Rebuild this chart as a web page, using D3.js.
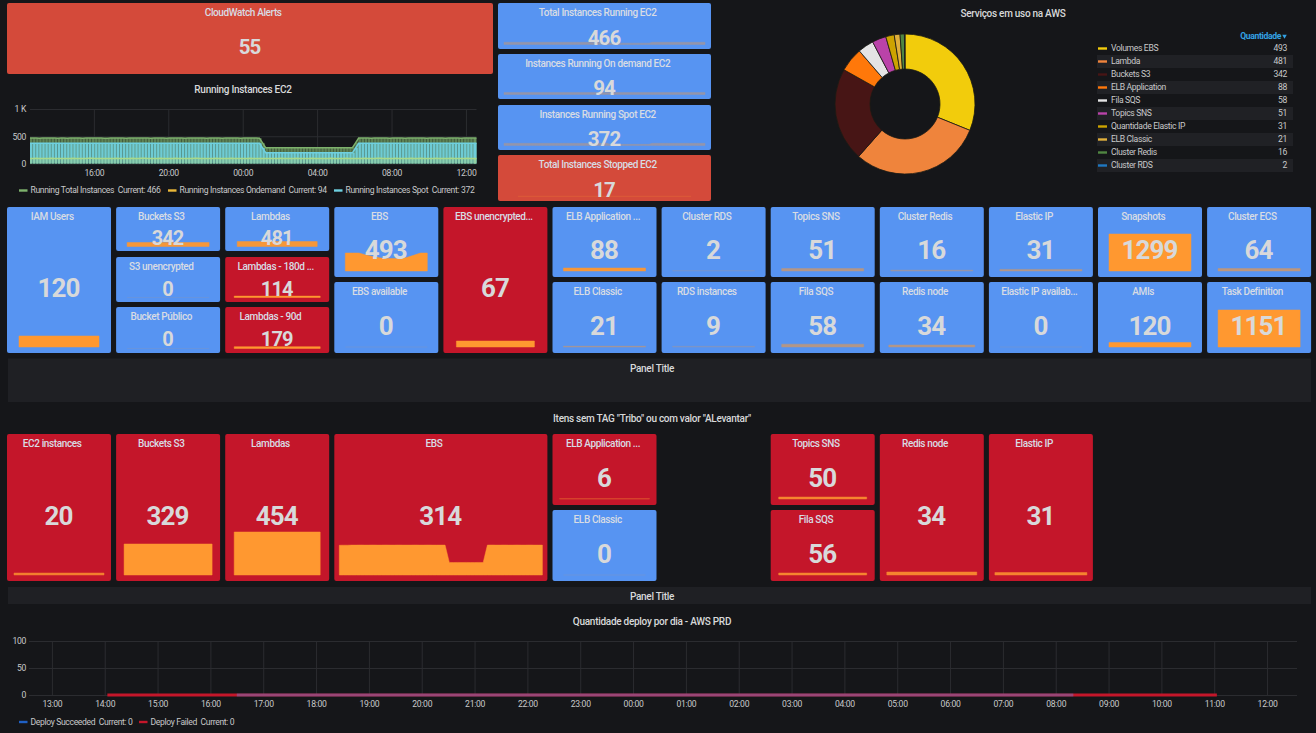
<!DOCTYPE html>
<html>
<head>
<meta charset="utf-8">
<script src="https://cdn.jsdelivr.net/npm/d3@7"></script>
<style>
  body { margin: 0; background: #151619; overflow: hidden; }
  svg { display: block; font-family: Roboto, sans-serif; }
  text { white-space: pre; }
  .panel-title { fill: #d8d9da; font-size: 10px; font-weight: 500; text-anchor: middle; dominant-baseline: middle; letter-spacing: -0.28px; }
  .tile-title { fill: #d8dce4; font-size: 10px; font-weight: 500; text-anchor: middle; dominant-baseline: middle; letter-spacing: -0.38px; }
  .tile-value { fill: #d8d9da; font-weight: 700; text-anchor: middle; dominant-baseline: middle; letter-spacing: -0.9px; }
  .legend { fill: #c8c9ca; font-size: 8.6px; dominant-baseline: middle; letter-spacing: -0.35px; }
  .axis text { fill: #c8c9ca; font-size: 8.6px; font-family: Roboto, sans-serif; letter-spacing: -0.3px; }
  .axis line { stroke: #2b2c30; }
  .axis path { display: none; }
</style>
</head>
<body>
<div class="chart"></div>
<script>
'use strict';

// Top row tiles
const topTitles = ['CloudWatch Alerts', 'Total Instances Running EC2', 'Instances Running On demand EC2', 'Instances Running Spot EC2', 'Total Instances Stopped EC2'];
const topValues = [55, 466, 94, 372, 17];

// Running instances graph, one sample every 10 minutes
const runningTotal = [
  466,467,466,465,466,466,467,468,466,465,
  466,466,465,466,467,466,466,465,466,467,
  468,467,466,466,465,464,466,466,467,466,
  466,465,466,467,466,466,468,467,466,465,
  466,466,467,466,465,466,466,467,466,466,
  465,466,466,467,468,466,466,465,466,466,
  467,466,465,466,466,467,466,466,465,466,
  466,467,466,466,465,378,
  291,290,289,290,290,291,290,289,290,290,
  291,290,290,289,290,291,290,290,289,290,
  290,291,290,289,290,290,291,290,290,378,
  466,466,467,466,465,466,468,467,466,466,
  465,466,467,466,466,465,466,467,466,466,
  468,466,465,466,466,467,466,466,465,466,
  467,466,466,465,466,467,466,466,466
];
const runningOndemand = [
  94,94,95,94,94,94,94,95,94,94,
  94,94,94,94,95,94,94,94,94,95,
  95,94,94,94,94,93,94,94,95,94,
  94,94,94,95,94,94,95,95,94,94,
  94,94,95,94,94,94,94,95,94,94,
  94,94,94,95,95,94,94,94,94,94,
  95,94,94,94,94,95,94,94,94,94,
  94,95,94,94,94,94,
  94,94,93,94,94,95,94,93,94,94,
  95,94,94,93,94,95,94,94,93,94,
  94,95,94,93,94,94,95,94,94,94,
  94,94,95,94,94,94,95,95,94,94,
  94,94,95,94,94,94,94,95,94,94,
  95,94,94,94,94,95,94,94,94,94,
  95,94,94,94,94,95,94,94,94
];
const runningSpot = [
  372,373,371,371,372,372,373,373,372,371,
  372,372,371,372,372,372,372,371,372,372,
  373,373,372,372,371,371,372,372,372,372,
  372,371,372,372,372,372,373,372,372,371,
  372,372,372,372,371,372,372,372,372,372,
  371,372,372,372,373,372,372,371,372,372,
  372,372,371,372,372,372,372,372,371,372,
  372,372,372,372,371,284,
  197,196,196,196,196,196,196,196,196,196,
  196,196,196,196,196,196,196,196,196,196,
  196,196,196,196,196,196,196,196,196,284,
  372,372,372,372,371,372,373,372,372,372,
  371,372,372,372,372,371,372,372,372,372,
  373,372,371,372,372,372,372,372,371,372,
  372,372,372,371,372,372,372,372,372
];
const runningLegend = ['Running Total Instances  Current: 466', 'Running Instances Ondemand  Current: 94', 'Running Instances Spot  Current: 372'];
const runningYTicks = [0, 500, 1000];

// Services pie
const pieLabels = ['Volumes EBS', 'Lambda', 'Buckets S3', 'ELB Application', 'Fila SQS', 'Topics SNS', 'Quantidade Elastic IP', 'ELB Classic', 'Cluster Redis', 'Cluster RDS'];
const pieValues = [493, 481, 342, 88, 58, 51, 31, 21, 16, 2];
const pieColours = ['#f2cc0c', '#ef843c', '#471515', '#ff780a', '#e4e4e4', '#ba43a9', '#cca300', '#e0b03c', '#508642', '#1f78c1'];

// Services tiles
const serviceTitles = [
  'IAM Users', 'Buckets S3', 'S3 unencrypted', 'Bucket Público', 'Lambdas', 'Lambdas - 180d ...', 'Lambdas - 90d',
  'EBS', 'EBS available', 'EBS unencrypted...', 'ELB Application ...', 'ELB Classic', 'Cluster RDS', 'RDS instances',
  'Topics SNS', 'Fila SQS', 'Cluster Redis', 'Redis node', 'Elastic IP', 'Elastic IP availab...', 'Snapshots', 'AMIs',
  'Cluster ECS', 'Task Definition'
];
const serviceValues = [120, 342, 0, 0, 481, 114, 179, 493, 0, 67, 88, 21, 2, 9, 51, 58, 16, 34, 31, 0, 1299, 120, 64, 1151];
const serviceSeries = [
  [120, 120], [342, 342], [0, 0], [0, 0], [481, 481], [114, 114], [179, 179],
  [493, 493, 493, 440, 395, 360, 345, 345, 345, 370, 430, 493, 493], [0, 0], [67, 67], [88, 88], [21, 21], [2, 2], [9, 9],
  [51, 51], [58, 58], [16, 16], [34, 34], [31, 31], [0, 0], [1299, 1299], [120, 120], [64, 64], [1151, 1151]
];

// Items without tag tiles
const untaggedTitles = ['EC2 instances', 'Buckets S3', 'Lambdas', 'EBS', 'ELB Application ...', 'ELB Classic', 'Topics SNS', 'Fila SQS', 'Redis node', 'Elastic IP'];
const untaggedValues = [20, 329, 454, 314, 6, 0, 50, 56, 34, 31];
const untaggedSeries = [
  [20, 20], [329, 329], [454, 454],
  [
    312, 313, 313, 314, 314, 315, 314, 314, 315, 314, 314, 315, 314,
    314, 315, 314, 314, 314, 315, 314, 314, 315, 314, 314, 314, 314,
    132, 131, 132, 131, 132, 131, 131, 132, 131,
    314, 315, 314, 314, 315, 314, 314, 315, 314, 314, 315, 314, 314, 314
  ],
  [6, 6], [0, 0], [50, 50], [56, 56], [34, 34], [31, 31]
];

// Deploy graph
const deployTimes = ['14:03', '15:03', '16:03', '16:30', '17:03', '18:03', '19:03', '20:03', '21:03', '22:03', '23:03', '00:03', '01:03', '02:03', '03:03', '04:03', '05:03', '06:03', '07:03', '08:03', '08:20', '09:03', '10:03', '11:03'];
const deployFailed = [0, 0, 0, 0, 0, 0, 0, 0, 0, 0, 0, 0, 0, 0, 0, 0, 0, 0, 0, 0, 0, 0, 0, 0];
const deploySucceeded = [null, null, null, 0, 0, 0, 0, 0, 0, 0, 0, 0, 0, 0, 0, 0, 0, 0, 0, 0, 0, null, null, null];
const deployLegend = ['Deploy Succeeded  Current: 0', 'Deploy Failed  Current: 0'];
const deployYTicks = [0, 50, 100];

// Initialize
const w = 1316;
const h = 733;
const blue = '#5794f2';
const red = '#c4162a';
const softRed = '#d44a3a';
const orange = '#ff9830';

const svg = d3.select('.chart')
              .append('svg')
              .attr('width', w)
              .attr('height', h);

// Tile layout: [x, y, width, height, spark inset]
const colX = d3.scaleLinear().domain([0, 12]).range([7, 1316.2]);
const box = (col, row, inset, span = 1) => [colX(col), row[0], span * 104 + (span - 1) * 5.1, row[1], inset];

const tall = [207, 146], upper = [207, 70], lower = [282, 71];
const first = [207, 44], second = [257, 45], third = [307, 46];
const tagTall = [434, 147], tagUpper = [434, 71], tagLower = [510, 71];

const topBoxes = [[7, 3, 486, 71, 6], [498, 3, 213, 46, 6], [498, 54, 213, 45, 6], [498, 105, 213, 45, 6], [498, 155, 213, 46, 20]];
const topFills = [softRed, blue, blue, blue, softRed];
const topSparks = [null, runningTotal, runningOndemand, runningSpot, [17, 17]];
const topHeights = [0, 2.2, 2, 2.2, 0.4];
const topAlphas = [0, 0.36, 0.36, 0.36, 0.2];

const serviceBoxes = [
  box(0, tall, 12), box(1, first, 11), box(1, second, 11), box(1, third, 11),
  box(2, first, 12), box(2, second, 9), box(2, third, 9),
  box(3, upper, 11), box(3, lower, 11), box(4, tall, 13),
  box(5, upper, 11), box(5, lower, 11), box(6, upper, 11), box(6, lower, 11),
  box(7, upper, 11), box(7, lower, 11), box(8, upper, 11), box(8, lower, 9),
  box(9, upper, 11), box(9, lower, 11), box(10, upper, 11), box(10, lower, 11),
  box(11, upper, 11), box(11, lower, 11)
];
const serviceFills = [blue, blue, blue, blue, blue, red, red, blue, blue, red, blue, blue, blue, blue, blue, blue, blue, blue, blue, blue, blue, blue, blue, blue];
const serviceHeights = [11, 4, 0.2, 0.2, 5, 1.4, 1.8, 18, 0.2, 6, 3, 0.7, 0.4, 0.6, 2.5, 2.8, 0.8, 2, 1.6, 0.2, 37, 4.5, 2.5, 37];
const serviceAlphas = [1, 0.95, 0.12, 0.12, 0.95, 1, 1, 1, 0.12, 1, 0.95, 0.5, 0.18, 0.28, 0.55, 0.55, 0.42, 0.55, 0.55, 0.12, 1, 1, 0.6, 1];

const untaggedBoxes = [
  box(0, tagTall, 7), box(1, tagTall, 8), box(2, tagTall, 9), box(3, tagTall, 5, 2),
  box(5, tagUpper, 7), box(5, tagLower, 11), box(7, tagUpper, 8), box(7, tagLower, 8),
  box(8, tagTall, 7), box(9, tagTall, 6)
];
const untaggedFills = [red, red, red, red, red, blue, red, red, red, red];
const untaggedHeights = [2, 31, 43, 30, 0.3, 0.2, 2, 2, 3, 2.5];
const untaggedAlphas = [0.8, 1, 1, 1, 0.5, 0.12, 0.85, 0.85, 0.85, 0.85];

// Single stat tiles with their sparklines
function drawTiles(titles, values, series, boxes, fills, heights, alphas, opts) {
  titles.forEach((title, i) => {
    const [x, y, bw, bh, inset] = boxes[i];
    const g = svg.append('g');
    const short = bh < 50;

    g.append('rect')
      .attr('x', x).attr('y', y)
      .attr('width', bw).attr('height', bh)
      .attr('rx', 2)
      .attr('fill', fills[i]);

    if (series[i]) {
      const bottom = y + bh - (short ? 4.5 : 6);
      const sx = d3.scaleLinear().domain([0, series[i].length - 1]).range([x + inset, x + bw - inset]);
      const sy = d3.scaleLinear().domain([0, d3.max(series[i]) || 1]).range([bottom, bottom - heights[i]]);
      const area = d3.area().x((d, k) => sx(k)).y0(bottom).y1(d => sy(d));
      g.append('path')
        .attr('d', area(series[i]))
        .attr('fill', orange)
        .attr('stroke', orange)
        .attr('stroke-width', 0.5)
        .attr('opacity', alphas[i]);
    }

    const titleShift = title.endsWith('...') ? -1.5 : -6.8;
    g.append('text')
      .attr('class', 'tile-title')
      .attr('x', x + bw / 2 + titleShift)
      .attr('y', y + 10.8)
      .text(title);

    g.append('text')
      .attr('class', 'tile-value')
      .attr('x', x + bw / 2 - 0.5)
      .attr('y', y + bh / 2 + (short ? opts.shortDy : 10.5))
      .attr('font-size', short ? opts.shortFont : opts.bigFont)
      .text(values[i]);
  });
}

drawTiles(topTitles, topValues, topSparks, topBoxes, topFills, topHeights, topAlphas, { shortDy: 13.5, shortFont: 20.5, bigFont: 20.5 });
drawTiles(serviceTitles, serviceValues, serviceSeries, serviceBoxes, serviceFills, serviceHeights, serviceAlphas, { shortDy: 11, shortFont: 20, bigFont: 26 });
drawTiles(untaggedTitles, untaggedValues, untaggedSeries, untaggedBoxes, untaggedFills, untaggedHeights, untaggedAlphas, { shortDy: 11, shortFont: 20, bigFont: 26 });

// Empty title bands and headings
svg.append('rect').attr('x', 8).attr('y', 358.5).attr('width', 1303).attr('height', 43.5).attr('fill', '#1f2024');
svg.append('rect').attr('x', 8).attr('y', 587).attr('width', 1303).attr('height', 17).attr('fill', '#1f2024');

const headings = [
  ['Panel Title', 652, 369], ['Itens sem TAG "Tribo" ou com valor "ALevantar"', 652, 419], ['Panel Title', 652, 597],
  ['Quantidade deploy por dia - AWS PRD', 652, 622], ['Running Instances EC2', 243, 90.5], ['Serviços em uso na AWS', 1013, 14.5]
];
svg.selectAll('.panel-title')
  .data(headings)
  .enter()
  .append('text')
  .attr('class', 'panel-title')
  .attr('x', d => d[1])
  .attr('y', d => d[2])
  .text(d => d[0]);

// Running instances graph
const start = Date.UTC(2020, 0, 1, 12, 34);
const tenMin = 600000;
const runX = d3.scaleUtc().domain([start, start + 144 * tenMin]).range([30, 476.5]);
const runY = d3.scaleLinear().domain([0, 1000]).range([163.5, 109]);
const runTime = i => start + i * tenMin;

svg.append('g')
  .attr('class', 'axis')
  .attr('transform', 'translate(0, 163.5)')
  .call(d3.axisBottom(runX)
    .ticks(d3.utcHour.every(4))
    .tickFormat(d3.utcFormat('%H:%M'))
    .tickSize(-54.5)
    .tickPadding(6));

svg.append('g')
  .attr('class', 'axis')
  .attr('transform', 'translate(30, 0)')
  .call(d3.axisLeft(runY)
    .tickValues(runningYTicks)
    .tickFormat(d => d >= 1000 ? (d / 1000) + ' K' : d)
    .tickSize(-446.5)
    .tickPadding(4));

const bandArea = series => d3.area()
  .x((d, i) => runX(runTime(i)))
  .y0(runY(0))
  .y1(d => runY(d))(series);

svg.append('path').attr('d', bandArea(runningTotal)).attr('fill', '#7eb26d').attr('opacity', 0.42);
svg.append('path').attr('d', bandArea(runningSpot)).attr('fill', '#6ed0e0').attr('opacity', 0.5);

const barW = 2.2;
svg.append('g').selectAll('rect')
  .data(runningTotal)
  .enter()
  .append('rect')
  .attr('x', (d, i) => Math.min(runX(runTime(i)), 476.5 - barW))
  .attr('y', d => runY(d))
  .attr('width', barW)
  .attr('height', d => runY(0) - runY(d))
  .attr('fill', '#7eb26d')
  .attr('opacity', 0.5);

svg.append('g').selectAll('rect')
  .data(runningSpot)
  .enter()
  .append('rect')
  .attr('x', (d, i) => Math.min(runX(runTime(i)), 476.5 - barW))
  .attr('y', d => runY(d))
  .attr('width', barW)
  .attr('height', d => runY(0) - runY(d))
  .attr('fill', '#6ed0e0')
  .attr('opacity', 0.88);

svg.append('g').selectAll('rect')
  .data(runningOndemand)
  .enter()
  .append('rect')
  .attr('x', (d, i) => Math.min(runX(runTime(i)), 476.5 - barW))
  .attr('y', d => runY(d))
  .attr('width', barW)
  .attr('height', d => runY(0) - runY(d))
  .attr('fill', '#b9d36a')
  .attr('opacity', 0.35);

const runLine = d3.line().x((d, i) => runX(runTime(i))).y(d => runY(d));
[[runningSpot, '#6ed0e0'], [runningOndemand, '#a9d98a'], [runningTotal, '#7eb26d']].forEach(([series, colour]) => {
  svg.append('path')
    .attr('d', runLine(series))
    .attr('fill', 'none')
    .attr('stroke', colour)
    .attr('stroke-width', 1.5);
});

function drawLegend(labels, colours, swatchX, y) {
  labels.forEach((label, i) => {
    svg.append('rect')
      .attr('x', swatchX[i]).attr('y', y - 1.2)
      .attr('width', 8.5).attr('height', 2.4)
      .attr('fill', colours[i]);
    svg.append('text')
      .attr('class', 'legend')
      .attr('x', swatchX[i] + 11.5)
      .attr('y', y + 0.5)
      .text(label);
  });
}

drawLegend(runningLegend, ['#7eb26d', '#eab839', '#6ed0e0'], [19, 168, 334], 190.5);

// Pie
const pieArc = d3.arc().innerRadius(35).outerRadius(70);
const pie = d3.pie().sort(null);

svg.append('g')
  .attr('transform', 'translate(905, 104)')
  .selectAll('path')
  .data(pie(pieValues))
  .enter()
  .append('path')
  .attr('d', pieArc)
  .attr('fill', (d, i) => pieColours[i])
  .attr('stroke', '#1b1a14')
  .attr('stroke-width', 0.8);

// Pie legend table
const rowY = d3.scaleBand().domain(d3.range(pieLabels.length)).range([42, 172]);

svg.append('text')
  .attr('class', 'legend')
  .attr('x', 1281)
  .attr('y', 37)
  .attr('text-anchor', 'end')
  .attr('font-weight', 700)
  .style('fill', '#33a2e5')
  .text('Quantidade');
svg.append('path').attr('d', d3.symbol(d3.symbolTriangle, 9)()).attr('transform', 'translate(1284.5, 36) rotate(180)').attr('fill', '#33a2e5');

pieLabels.forEach((label, i) => {
  const cy = rowY(i) + rowY.bandwidth() / 2;
  if (i % 2 === 1) {
    svg.append('rect').attr('x', 1097).attr('y', rowY(i)).attr('width', 196).attr('height', rowY.bandwidth()).attr('fill', '#202125');
  }
  svg.append('rect').attr('x', 1098).attr('y', cy - 1.2).attr('width', 9).attr('height', 2.4).attr('fill', pieColours[i]);
  svg.append('text').attr('class', 'legend').attr('x', 1111).attr('y', cy + 0.5).text(label);
  svg.append('text').attr('class', 'legend').attr('x', 1287).attr('y', cy + 0.5).attr('text-anchor', 'end').text(pieValues[i]);
});

// Deploy graph
const deployX = d3.scaleUtc().domain([start, start + 144 * tenMin]).range([29, 1297]);
const deployY = d3.scaleLinear().domain([0, 100]).range([695, 641]);
const deployDate = t => {
  const [hh, mm] = t.split(':').map(Number);
  return Date.UTC(2020, 0, hh < 12 ? 2 : 1, hh, mm);
};

svg.append('g')
  .attr('class', 'axis')
  .attr('transform', 'translate(0, 695)')
  .call(d3.axisBottom(deployX)
    .ticks(d3.utcHour.every(1))
    .tickFormat(d3.utcFormat('%H:%M'))
    .tickSize(-54)
    .tickPadding(6));

svg.append('g')
  .attr('class', 'axis')
  .attr('transform', 'translate(29, 0)')
  .call(d3.axisLeft(deployY)
    .tickValues(deployYTicks)
    .tickSize(-1268)
    .tickPadding(3));

const deployLine = d3.line()
  .defined(d => d[1] !== null)
  .x(d => deployX(deployDate(d[0])))
  .y(d => deployY(d[1]));

svg.append('path')
  .attr('d', deployLine(d3.zip(deployTimes, deployFailed)))
  .attr('fill', 'none')
  .attr('stroke', '#c4162a')
  .attr('stroke-width', 3);

svg.append('path')
  .attr('d', deployLine(d3.zip(deployTimes, deploySucceeded)))
  .attr('fill', 'none')
  .attr('stroke', '#5794f2')
  .attr('stroke-width', 3)
  .attr('opacity', 0.38);

drawLegend(deployLegend, ['#1f60c4', '#c4162a'], [19, 139], 722);
</script>
</body>
</html>
